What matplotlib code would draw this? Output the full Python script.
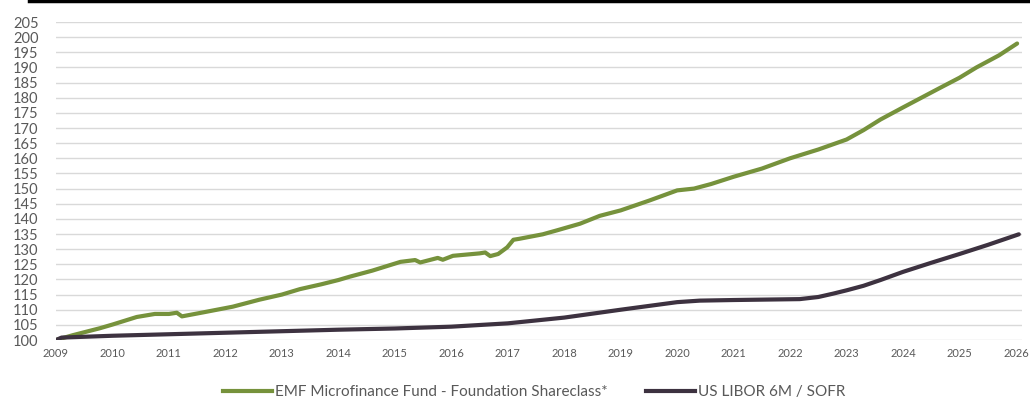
import matplotlib.pyplot as plt
import matplotlib.lines as mlines

# Indexed performance (2009 = 100)
emf_years = [2009.0, 2009.3, 2009.78, 2010.0, 2010.43, 2010.75, 2011.0, 2011.14, 2011.23,
             2011.6, 2012.13, 2012.6, 2013.0, 2013.32, 2013.7, 2014.0, 2014.2, 2014.6,
             2015.1, 2015.36, 2015.45, 2015.76, 2015.85, 2016.03, 2016.5, 2016.6, 2016.69,
             2016.83, 2016.99, 2017.1, 2017.2, 2017.62, 2017.87, 2018.28, 2018.63, 2019.0,
             2019.5, 2020.0, 2020.3, 2020.6, 2021.0, 2021.5, 2022.0, 2022.5, 2023.0,
             2023.3, 2023.6, 2024.0, 2024.65, 2025.0, 2025.3, 2025.7, 2026.02]
emf_values = [100.0, 101.6, 103.9, 105.1, 107.6, 108.6, 108.6, 109.0, 107.8,
              109.1, 111.0, 113.3, 115.0, 116.8, 118.4, 119.8, 120.9, 122.9,
              125.8, 126.4, 125.6, 127.1, 126.5, 127.8, 128.6, 128.9, 127.7,
              128.4, 130.6, 133.1, 133.4, 134.9, 136.2, 138.4, 141.0, 142.8,
              146.0, 149.4, 150.0, 151.5, 153.9, 156.6, 160.0, 162.9, 166.2,
              169.3, 172.8, 176.8, 183.2, 186.6, 190.0, 194.0, 197.9]

libor_years = [2009.0, 2009.1, 2010.0, 2011.0, 2012.0, 2013.0, 2014.0, 2015.0, 2016.0,
               2017.0, 2018.0, 2019.0, 2020.0, 2020.4, 2021.0, 2022.17, 2022.5, 2022.76,
               2023.0, 2023.3, 2023.6, 2024.0, 2024.5, 2025.0, 2025.5, 2026.05]
libor_values = [100.0, 100.8, 101.4, 101.9, 102.4, 102.9, 103.4, 103.8, 104.4,
                105.5, 107.4, 110.0, 112.5, 113.0, 113.2, 113.5, 114.2, 115.3,
                116.4, 117.9, 119.8, 122.5, 125.5, 128.4, 131.4, 134.9]

year_ticks = list(range(2009, 2027))
value_ticks = list(range(100, 206, 5))

green = "#76923c"
dark = "#3d3240"
label_color = "#595959"

plt.rcParams.update({"font.family": ["Lato", "DejaVu Sans"]})

fig = plt.figure(figsize=(10.3, 4.03), dpi=100)
ax = fig.add_axes([56 / 1030, 1 - 340 / 403, (1022 - 56) / 1030, (340 - 22) / 403])

ax.plot(emf_years, emf_values, color=green, lw=3, solid_capstyle="round", zorder=3)
ax.plot(libor_years, libor_values, color=dark, lw=3, solid_capstyle="round", zorder=3)

ax.set_xlim(2009, 2009 + (1022 - 56) / 56.47)
ax.set_ylim(100, 205)
ax.set_xticks(year_ticks)
ax.set_yticks(value_ticks)
ax.tick_params(axis="x", length=0, labelsize=8, labelcolor=label_color, pad=6)
ax.tick_params(axis="y", length=0, labelsize=10.5, labelcolor=label_color, pad=31)
for lab in ax.get_yticklabels():
    lab.set_horizontalalignment("left")
ax.grid(axis="y", color="#d9d9d9", lw=1)
ax.set_axisbelow(True)
for s in ax.spines.values():
    s.set_visible(False)

# thick rule at the very top
fig.add_artist(mlines.Line2D([29 / 1030, 1], [1 - 1.2 / 403] * 2, color="black", lw=2.5,
                             transform=fig.transFigure))

handles = [
    mlines.Line2D([], [], color=green, lw=3, label="EMF Microfinance Fund - Foundation Shareclass*"),
    mlines.Line2D([], [], color=dark, lw=3, label="US LIBOR 6M / SOFR"),
]
leg = fig.legend(handles=handles, loc="center", bbox_to_anchor=(534 / 1030, 1 - 392 / 403),
                 ncol=2, frameon=False, fontsize=11, handlelength=3.2, handletextpad=0.2,
                 columnspacing=2.5)
for t in leg.get_texts():
    t.set_color(label_color)

fig.savefig("out.png", dpi=100)
